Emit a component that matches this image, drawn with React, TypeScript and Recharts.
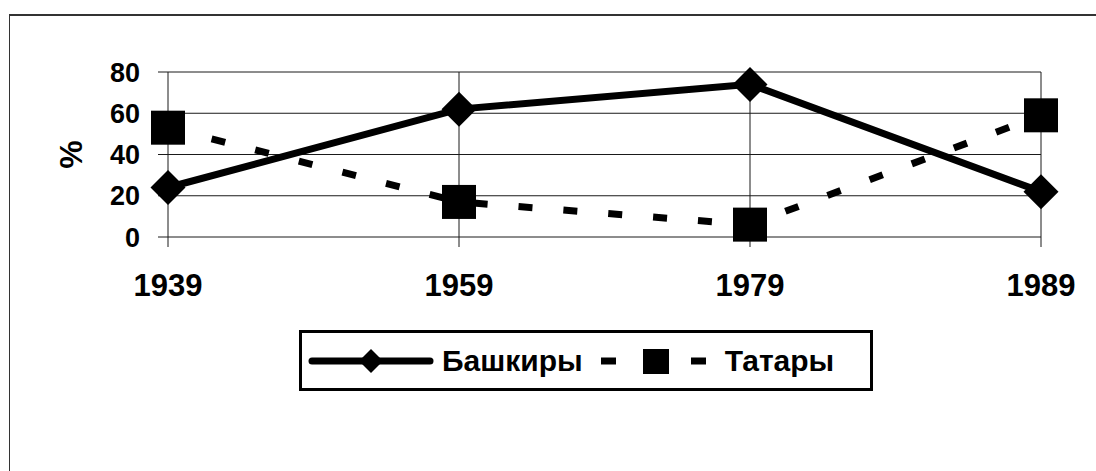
import { LineChart, Line, XAxis, YAxis, CartesianGrid, Legend } from 'recharts';

const years = ['1939', '1959', '1979', '1989'];
const bashkiry = [24, 62, 74, 22];
const tatary = [53, 17, 6, 59];
const yTicks = [0, 20, 40, 60, 80];

const seriesNames = { bashkiry: 'Башкиры', tatary: 'Татары' };

const chartData = years.map((year, i) => ({
  year,
  bashkiry: bashkiry[i],
  tatary: tatary[i],
}));

const FONT = '"Liberation Sans", Arial, sans-serif';

const DiamondDot = (props: any) => {
  const { cx, cy } = props;
  if (cx == null || cy == null) return null;
  const h = 17.5;
  return (
    <polygon
      points={`${cx},${cy - h} ${cx + h},${cy} ${cx},${cy + h} ${cx - h},${cy}`}
      fill="#000"
    />
  );
};

const SquareDot = (props: any) => {
  const { cx, cy } = props;
  if (cx == null || cy == null) return null;
  const s = 34;
  return <rect x={cx - s / 2} y={cy - s / 2} width={s} height={s} fill="#000" />;
};

const CustomLegend = () => (
  <div
    style={{
      boxSizing: 'border-box',
      width: 574,
      height: 61,
      border: '3px solid #000',
      background: '#fff',
      display: 'flex',
      alignItems: 'center',
      fontFamily: FONT,
      fontWeight: 'bold',
      fontSize: 30,
      color: '#000',
    }}
  >
    <svg width={126} height={40} style={{ marginLeft: 6 }}>
      <line x1={4} y1={20} x2={122} y2={20} stroke="#000" strokeWidth={7} strokeLinecap="round" />
      <polygon points="63,8 75,20 63,32 51,20" fill="#000" />
    </svg>
    <span style={{ marginLeft: 8 }}>{seriesNames.bashkiry}</span>
    <svg width={110} height={40} style={{ marginLeft: 16 }}>
      <line x1={2} y1={20} x2={17} y2={20} stroke="#000" strokeWidth={7} />
      <rect x={44} y={8} width={26} height={25} fill="#000" />
      <line x1={92} y1={20} x2={107} y2={20} stroke="#000" strokeWidth={7} />
    </svg>
    <span style={{ marginLeft: 16 }}>{seriesNames.tatary}</span>
  </div>
);

const PercentLabel = (props: any) => {
  const { viewBox } = props;
  const x = viewBox.x + 71;
  const y = viewBox.y + viewBox.height / 2;
  return (
    <text
      x={x}
      y={y}
      transform={`rotate(-90, ${x}, ${y})`}
      textAnchor="middle"
      dominantBaseline="central"
      fontFamily={FONT}
      fontWeight="bold"
      fontSize={32}
      fill="#000"
    >
      %
    </text>
  );
};

export default function App() {
  return (
    <div style={{ position: 'absolute', left: 0, top: 0, width: 1096, height: 471, background: '#fff', overflow: 'hidden' }}>
      <div
        style={{
          position: 'absolute',
          left: 9,
          top: 14,
          width: 1200,
          height: 600,
          borderLeft: '1.5px solid #333',
          borderTop: '2px solid #333',
        }}
      />
      <div style={{ position: 'absolute', left: 0, top: 0 }}>
        <LineChart
          width={1096}
          height={471}
          data={chartData}
          margin={{ top: 72, right: 55, left: 0, bottom: 174 }}
        >
          <CartesianGrid stroke="#1a1a1a" strokeWidth={1} />
          <XAxis
            dataKey="year"
            type="category"
            interval={0}
            padding={{ left: 0, right: 0 }}
            axisLine={false}
            tickLine={{ stroke: '#1a1a1a' }}
            tickSize={10}
            tickMargin={27}
            height={60}
            tick={{ fontFamily: FONT, fontWeight: 'bold', fontSize: 31, fill: '#000' }}
          />
          <YAxis
            domain={[0, 80]}
            ticks={yTicks}
            width={168}
            axisLine={false}
            tickLine={{ stroke: '#1a1a1a' }}
            tickSize={10}
            tickMargin={18}
            tick={{ fontFamily: FONT, fontWeight: 'bold', fontSize: 27, fill: '#000' }}
            label={{ content: <PercentLabel /> }}
          />
          <Legend
            layout="horizontal"
            verticalAlign="middle"
            align="center"
            content={<CustomLegend />}
            wrapperStyle={{ left: 299, top: 330, width: 574, height: 61 }}
          />
          <Line
            dataKey="tatary"
            name={seriesNames.tatary}
            stroke="#000"
            strokeWidth={7}
            strokeDasharray="14 31"
            dot={<SquareDot />}
            activeDot={false}
            isAnimationActive={false}
          />
          <Line
            dataKey="bashkiry"
            name={seriesNames.bashkiry}
            stroke="#000"
            strokeWidth={7}
            dot={<DiamondDot />}
            activeDot={false}
            isAnimationActive={false}
          />
        </LineChart>
      </div>
    </div>
  );
}
